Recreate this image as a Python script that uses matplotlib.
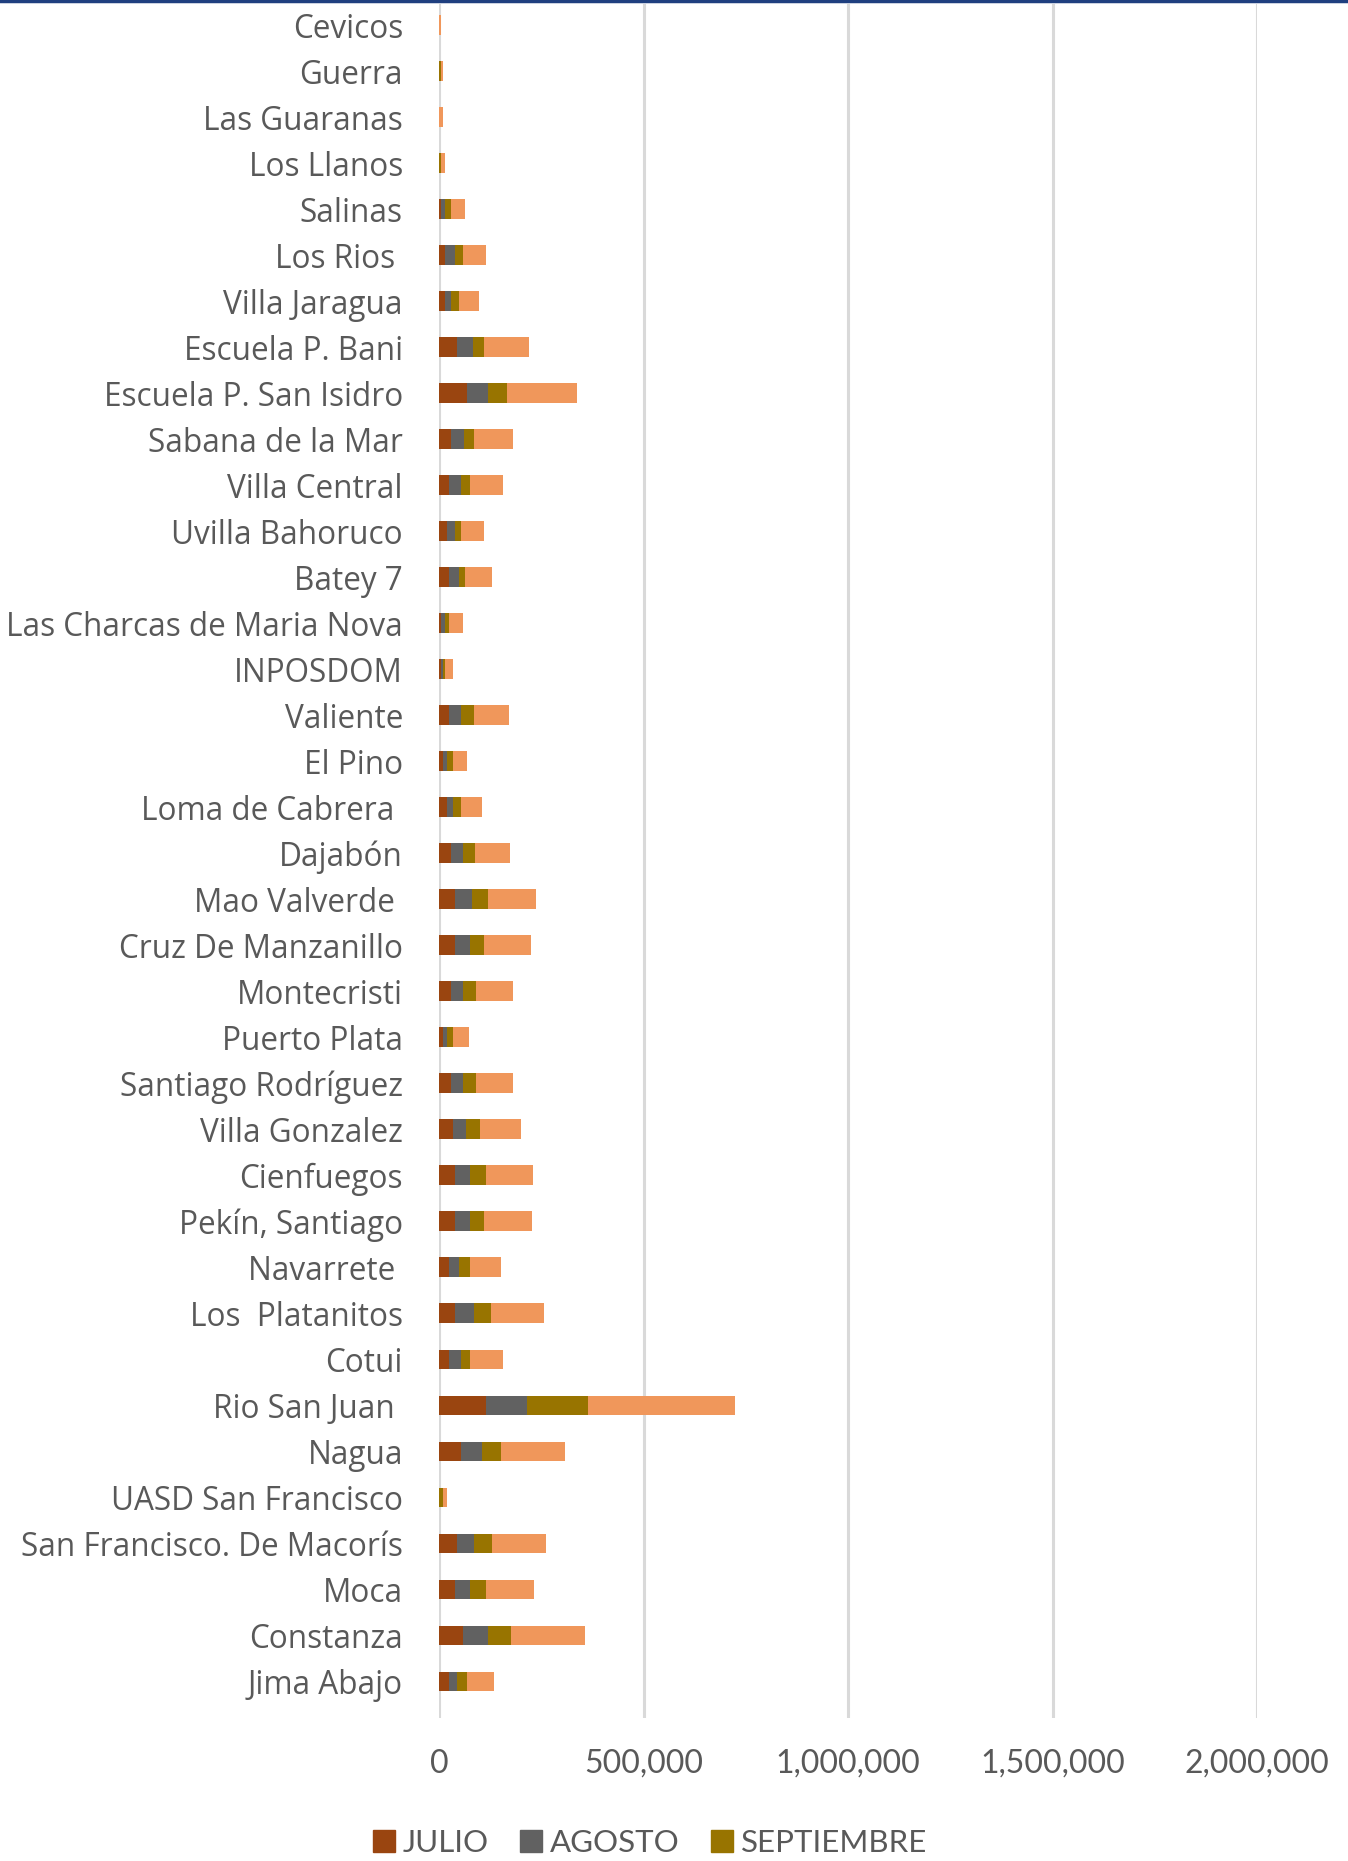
import numpy as np
import matplotlib
matplotlib.use('Agg')
import matplotlib.pyplot as plt
from matplotlib.lines import Line2D

# centros, de arriba hacia abajo
centros = ['Cevicos', 'Guerra', 'Las Guaranas', 'Los Llanos', 'Salinas', 'Los Rios ',
           'Villa Jaragua', 'Escuela P. Bani', 'Escuela P. San Isidro', 'Sabana de la Mar',
           'Villa Central', 'Uvilla Bahoruco', 'Batey 7', 'Las Charcas de Maria Nova',
           'INPOSDOM', 'Valiente', 'El Pino', 'Loma de Cabrera ', 'Dajabón', 'Mao Valverde ',
           'Cruz De Manzanillo', 'Montecristi', 'Puerto Plata', 'Santiago Rodríguez',
           'Villa Gonzalez', 'Cienfuegos', 'Pekín, Santiago', 'Navarrete ', 'Los  Platanitos',
           'Cotui', 'Rio San Juan ', 'Nagua', 'UASD San Francisco',
           'San Francisco. De Macorís', 'Moca', 'Constanza', 'Jima Abajo']

julio = [0, 0, 0, 0, 5000, 15000, 15000, 44000, 68000, 29000,
         24000, 20000, 24000, 5000, 5000, 24000, 10000, 20000, 29000, 39000,
         39000, 29000, 10000, 29000, 34000, 39000, 39000, 24000, 39000,
         24000, 116000, 53000, 0, 44000, 39000, 59000, 24000]
agosto = [0, 0, 0, 0, 10000, 24000, 15000, 38000, 52000, 33000,
          29000, 20000, 24000, 10000, 5000, 29000, 10000, 15000, 29000, 42000,
          38000, 29000, 10000, 29000, 33000, 38000, 38000, 24000, 47000,
          29000, 100000, 52000, 0, 42000, 38000, 61000, 20000]
septiembre = [0, 6000, 0, 5000, 15000, 19000, 20000, 28000, 47000, 24000,
              24000, 14000, 15000, 10000, 5000, 33000, 15000, 19000, 29000, 38000,
              33000, 33000, 15000, 33000, 33000, 38000, 33000, 28000, 42000,
              24000, 148000, 47000, 10000, 43000, 38000, 57000, 24000]
total = [5000, 4000, 10000, 10000, 33000, 56000, 47000, 110000, 171000, 95000,
         80000, 57000, 66000, 34000, 19000, 86000, 33000, 52000, 86000, 118000,
         114000, 90000, 38000, 90000, 100000, 114000, 118000, 76000, 128000,
         80000, 360000, 157000, 10000, 132000, 118000, 181000, 66000]

meses = ['JULIO', 'AGOSTO', 'SEPTIEMBRE']
colores = ['#9a4510', '#616161', '#987400', '#f0975b']

plt.rcParams['font.family'] = ['Lato', 'DejaVu Sans']

fig = plt.figure(figsize=(13.48, 18.61), dpi=100)
ax = fig.add_axes([439 / 1348, 1 - 1718 / 1861, (1257 - 439) / 1348, (1718 - 4) / 1861])

y = np.arange(len(centros))
izq = np.zeros(len(centros))
for serie, col in zip([julio, agosto, septiembre, total], colores):
    ax.barh(y, serie, left=izq, height=0.42, color=col, zorder=3)
    izq = izq + np.array(serie)

ax.set_ylim(len(centros) - 0.2, -0.457)
ax.set_xlim(0, 2000000)
ax.set_xticks([0, 500000, 1000000, 1500000, 2000000])
ax.xaxis.set_major_formatter(matplotlib.ticker.FuncFormatter(lambda v, p: '{:,.0f}'.format(v)))
ax.set_yticks(y)
ax.set_yticklabels(centros, family=['Open Sans', 'DejaVu Sans'])
ax.tick_params(axis='y', length=0, pad=26, labelsize=22.7, labelcolor='#595959')
ax.tick_params(axis='x', length=0, pad=22, labelsize=23, labelcolor='#595959')
ax.grid(axis='x', color='#d9d9d9', linewidth=2.2, zorder=0)
for s in ax.spines.values():
    s.set_visible(False)

# leyenda (solo los tres meses)
handles = [matplotlib.patches.Patch(color=c) for c in colores[:3]]
fig.legend(handles, meses, loc='center left', bbox_to_anchor=(345 / 1348, 1 - 1843 / 1861),
           ncol=3, frameon=False, fontsize=22.5, labelcolor='#595959',
           handlelength=0.7, handleheight=0.7, handletextpad=0.25, columnspacing=1.0)

# linea azul superior
fig.add_artist(Line2D([0, 1], [0.9995, 0.9995], color='#1f3f7f', linewidth=2.5,
                      transform=fig.transFigure))

fig.savefig('out.png', dpi=100)
